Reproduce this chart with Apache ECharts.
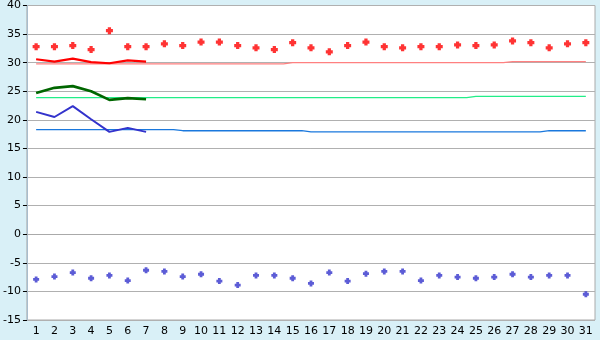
<!DOCTYPE html>
<html><head><meta charset="utf-8">
<script src="https://cdn.jsdelivr.net/npm/echarts@6/dist/echarts.min.js"></script>
<style>html,body{margin:0;padding:0;background:#d9f0f7;}#c{width:600px;height:340px;}</style>
</head><body><div id="c"></div>
<script>
var days = ['1','2','3','4','5','6','7','8','9','10','11','12','13','14','15','16','17','18','19','20','21','22','23','24','25','26','27','28','29','30','31'];
var yTicks = [-15, -10, -5, 0, 5, 10, 15, 20, 25, 30, 35, 40];
var maxPoints = [32.8,32.8,33.0,32.3,35.6,32.8,32.8,33.3,33.0,33.6,33.6,33.0,32.6,32.3,33.5,32.6,31.9,33.0,33.6,32.8,32.6,32.8,32.8,33.1,33.0,33.1,33.8,33.5,32.6,33.3,33.5];
var minPoints = [-7.9,-7.4,-6.7,-7.7,-7.2,-8.1,-6.3,-6.5,-7.4,-7.0,-8.2,-8.9,-7.2,-7.2,-7.7,-8.6,-6.7,-8.2,-6.9,-6.5,-6.5,-8.1,-7.2,-7.5,-7.7,-7.5,-7.0,-7.5,-7.2,-7.2,-10.5];
var redLine = [30.6,30.2,30.7,30.1,29.9,30.4,30.2];
var greenLine = [24.7,25.6,25.9,25.0,23.5,23.8,23.6];
var blueLine = [21.4,20.5,22.4,20.1,17.9,18.6,17.9];
var redRef = [29.8,29.8,29.8,29.8,29.8,29.8,29.8,29.8,29.8,29.8,29.8,29.8,29.8,29.8,30.0,30.0,30.0,30.0,30.0,30.0,30.0,30.0,30.0,30.0,30.0,30.0,30.2,30.2,30.2,30.2,30.2];
var greenRef = [23.9,23.9,23.9,23.9,23.9,23.9,23.9,23.9,23.9,23.9,23.9,23.9,23.9,23.9,23.9,23.9,23.9,23.9,23.9,23.9,23.9,23.9,23.9,23.9,24.1,24.1,24.1,24.1,24.1,24.1,24.1];
var blueRef = [18.3,18.3,18.3,18.3,18.3,18.3,18.3,18.3,18.1,18.1,18.1,18.1,18.1,18.1,18.1,17.9,17.9,17.9,17.9,17.9,17.9,17.9,17.9,17.9,17.9,17.9,17.9,17.9,18.1,18.1,18.1];

var plus = 'path://M1.6,0H4.4V1.6H6V4.4H4.4V6H1.6V4.4H0V1.6H1.6Z';
function refSeries(data, color) {
  return {type:'line', data:data, step:'middle', symbol:'none', lineStyle:{color:color, width:1.3}, z:2, silent:true};
}
function dataSeries(data, color, w) {
  return {type:'line', data:data, symbol:'none', lineStyle:{color:color, width:w}, z:3, silent:true};
}
var chart = echarts.init(document.getElementById('c'), null, {renderer:'canvas'});
chart.setOption({
  animation:false,
  backgroundColor:'#d9f0f7',
  textStyle:{fontFamily:'DejaVu Sans'},
  grid:{left:26, right:5, top:5, bottom:20, show:true, backgroundColor:'#ffffff', borderColor:'#aaaaaa', borderWidth:1},
  xAxis:{type:'category', data:days, boundaryGap:true,
    axisLine:{lineStyle:{color:'#aaaaaa'}},
    axisTick:{alignWithLabel:true, length:5, lineStyle:{color:'#000'}},
    axisLabel:{color:'#000', fontSize:11, margin:6, interval:0},
    splitLine:{show:false}},
  yAxis:{type:'value', min:yTicks[0], max:yTicks[yTicks.length-1], interval:5,
    axisLine:{show:true, lineStyle:{color:'#a8bccc'}},
    axisTick:{show:true, length:4, lineStyle:{color:'#000'}},
    axisLabel:{color:'#000', fontSize:11, margin:6},
    splitLine:{lineStyle:{color:'#b0b0b0', width:1}}},
  series:[
    refSeries(redRef, '#ff8080'),
    refSeries(greenRef, '#22ee88'),
    refSeries(blueRef, '#1a78dd'),
    dataSeries(redLine, '#ff0000', 2.2),
    dataSeries(greenLine, '#006600', 2.6),
    dataSeries(blueLine, '#3333cc', 2),
    {type:'scatter', data:maxPoints, symbol:plus, symbolSize:7, itemStyle:{color:'#ff0000'}, z:4, silent:true},
    {type:'scatter', data:minPoints, symbol:plus, symbolSize:6, itemStyle:{color:'#3333cc'}, z:4, silent:true}
  ]
});
</script></body></html>
